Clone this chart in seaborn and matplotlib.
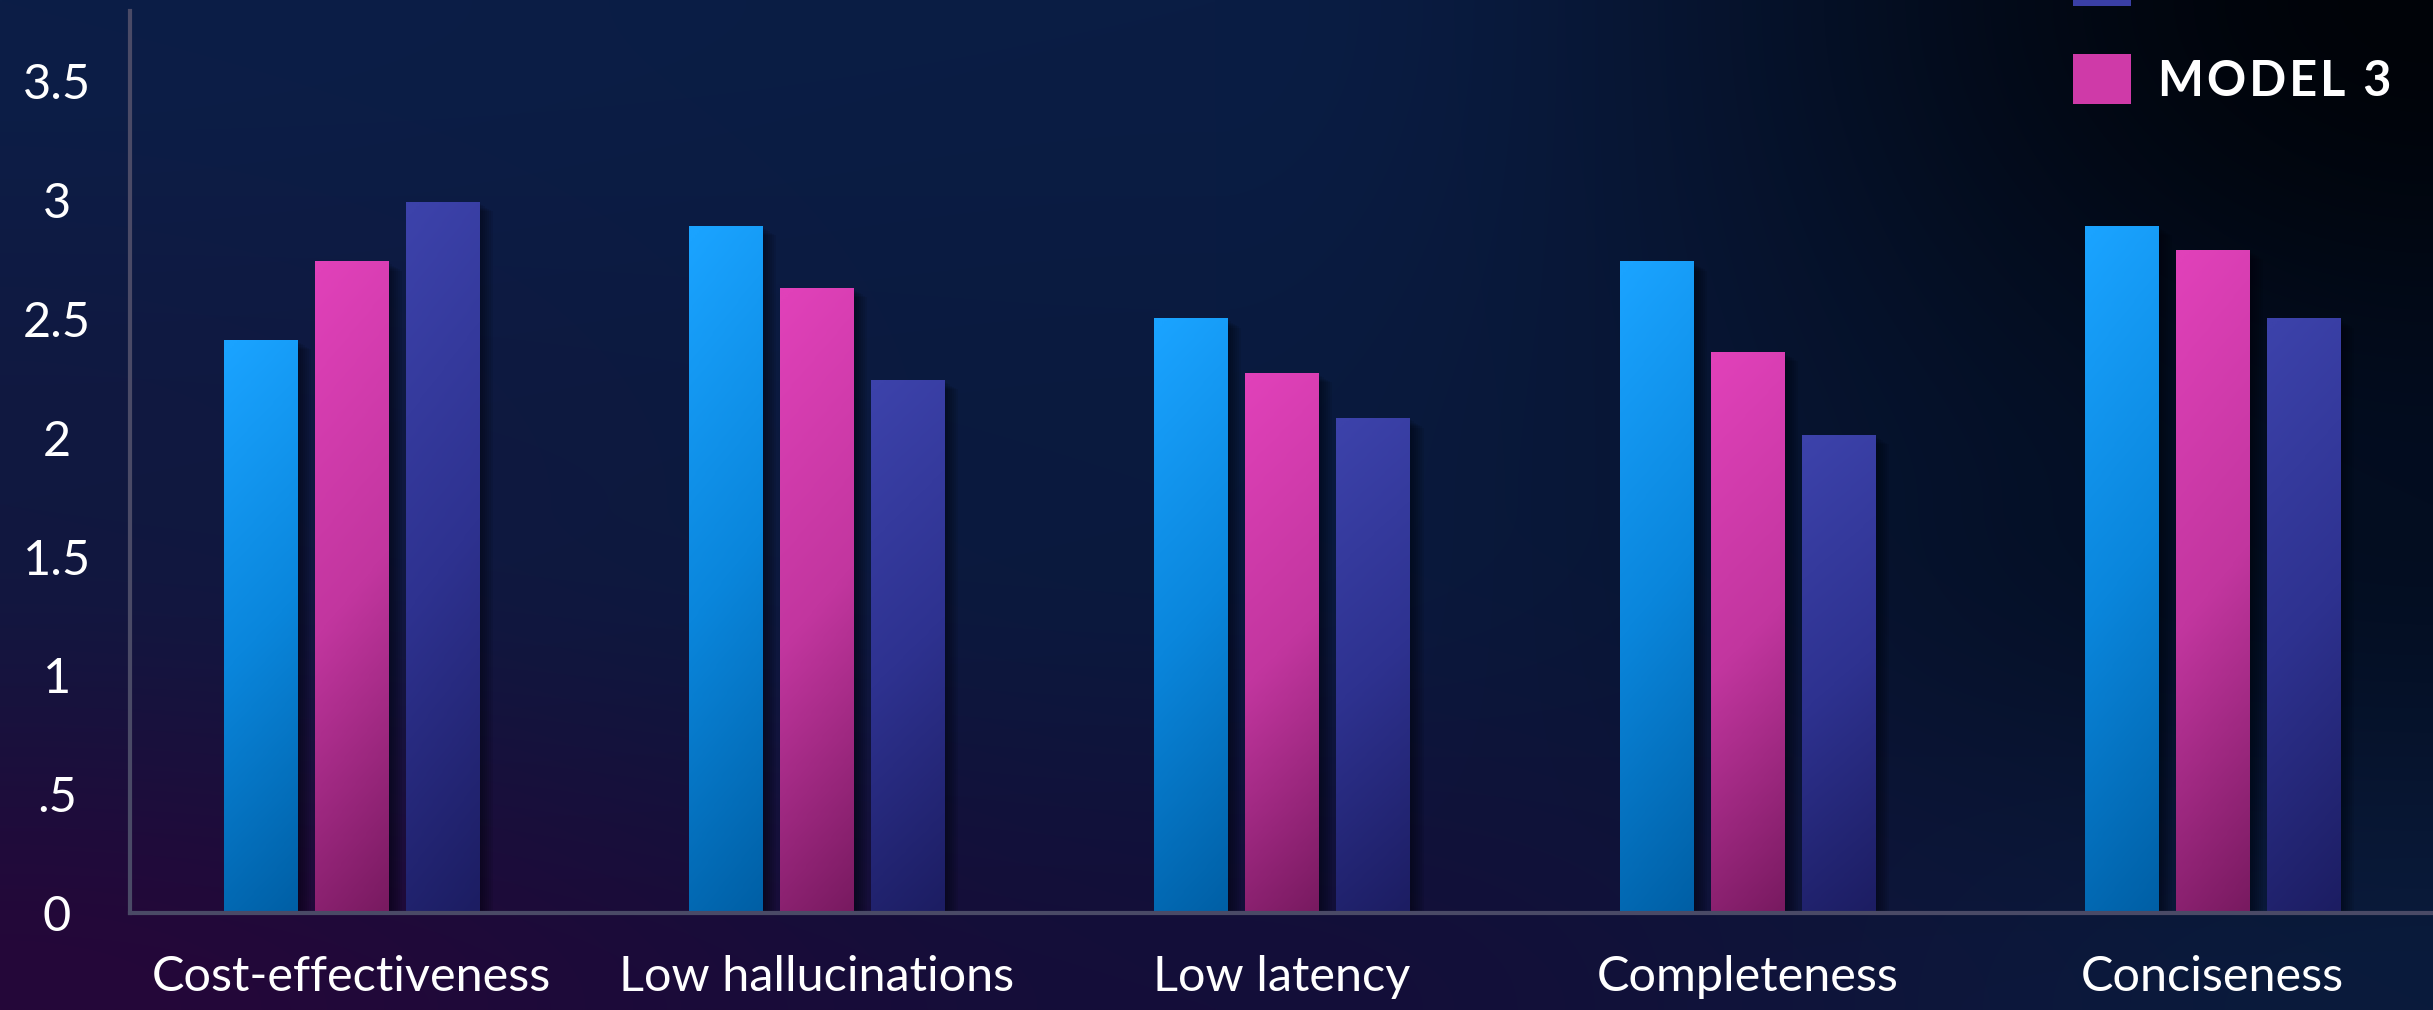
import numpy as np
import pandas as pd
import matplotlib
matplotlib.use("Agg")
import matplotlib.pyplot as plt
import matplotlib.patheffects as pe
from matplotlib.colors import LinearSegmentedColormap, to_rgb
from matplotlib.patches import Patch
from matplotlib.font_manager import FontProperties
import seaborn as sns

# ---- data -------------------------------------------------------------
categories = ["Cost-effectiveness", "Low hallucinations", "Low latency",
              "Completeness", "Conciseness"]
model_1 = [2.41, 2.89, 2.50, 2.74, 2.89]
model_3 = [2.74, 2.63, 2.27, 2.36, 2.79]
model_2 = [2.99, 2.24, 2.08, 2.01, 2.50]

series_names = ["MODEL 1", "MODEL 3", "MODEL 2"]          # drawing order in each group
legend_names = ["MODEL 1", "MODEL 2", "MODEL 3"]          # legend order
y_ticks = [0, 0.5, 1, 1.5, 2, 2.5, 3, 3.5]
y_tick_labels = ["0", ".5", "1", "1.5", "2", "2.5", "3", "3.5"]

df = pd.DataFrame({
    "category": categories * 3,
    "score": model_1 + model_3 + model_2,
    "model": [series_names[0]] * 5 + [series_names[1]] * 5 + [series_names[2]] * 5,
})

# gradient stops (top, middle, bottom) for each series
gradients = {
    "MODEL 1": ["#1aa3ff", "#0a86dc", "#005fa5"],
    "MODEL 3": ["#e041b9", "#c2369f", "#781a60"],
    "MODEL 2": ["#3c42aa", "#2e3290", "#1c1d62"],
}
swatch_colors = {"MODEL 1": "#1497f0", "MODEL 2": "#3a3fa6", "MODEL 3": "#cf3aa8"}

# ---- style ------------------------------------------------------------
sns.set_theme(style="dark")
plt.rcParams["font.family"] = ["Lato", "DejaVu Sans"]
plt.rcParams["axes.facecolor"] = "none"

W, H = 2433, 1010
fig = plt.figure(figsize=(W / 100, H / 100), dpi=100)

# ---- background gradient ------------------------------------------------
grid = np.array([
    [to_rgb("#0c1e47"), to_rgb("#0a1d44"), to_rgb("#000308")],
    [to_rgb("#111840"), to_rgb("#0a1a3e"), to_rgb("#030d20")],
    [to_rgb("#250739"), to_rgb("#140e39"), to_rgb("#0a1b3c")],
])
gh, gw = 300, 700
yy = np.linspace(0, 2, gh)[:, None]
xx = np.linspace(0, 2, gw)[None, :]
iy = np.clip(np.floor(yy).astype(int), 0, 1)
ix = np.clip(np.floor(xx).astype(int), 0, 1)
fy = (yy - iy)[..., None]
fx = (xx - ix)[..., None]
fy = fy * fy * (3 - 2 * fy)
fx = fx * fx * (3 - 2 * fx)
iy = np.broadcast_to(iy, (gh, gw))
ix = np.broadcast_to(ix, (gh, gw))
c00 = grid[iy, ix]
c01 = grid[iy, ix + 1]
c10 = grid[iy + 1, ix]
c11 = grid[iy + 1, ix + 1]
bg = (c00 * (1 - fx) * (1 - fy) + c01 * fx * (1 - fy)
      + c10 * (1 - fx) * fy + c11 * fx * fy)
bg_ax = fig.add_axes([0, 0, 1, 1], zorder=-10)
bg_ax.imshow(bg, aspect="auto", extent=(0, 1, 0, 1), interpolation="bilinear")
bg_ax.set_axis_off()

# ---- main axes ----------------------------------------------------------
left_px, base_px, top_px = 130, 913, 11
ax = fig.add_axes([left_px / W, (H - base_px) / H, (W - left_px) / W,
                   (base_px - top_px) / H])
ax.patch.set_alpha(0)

palette = {k: v[0] for k, v in gradients.items()}
sns.barplot(data=df, x="category", y="score", hue="model",
            hue_order=series_names, palette=palette, saturation=1,
            width=0.587, gap=0.198, legend=False, ax=ax, zorder=2,
            linewidth=0, edgecolor="none")

# soft shadow to the right of each bar
shadow = [pe.SimplePatchShadow(offset=(d * 0.72, -d * 0.45),
                               shadow_rgbFace="#01030a", alpha=0.085)
          for d in (2, 4, 6, 8, 10, 12, 14)] + [pe.Normal()]

# gradient fill for every bar
uu = np.linspace(0, 1, 256)[:, None]
vv = np.linspace(0, 1, 32)[None, :]
shade = np.clip(0.9 * uu + 0.12 * vv - 0.02, 0, 1)
for container, name in zip(ax.containers, series_names):
    cmap = LinearSegmentedColormap.from_list(name, gradients[name])
    rgba = cmap(shade)
    for bar in container:
        bar.set_path_effects(shadow)
        x0, w, h = bar.get_x(), bar.get_width(), bar.get_height()
        ax.imshow(rgba, extent=(x0, x0 + w, 0, h), aspect="auto",
                  origin="upper", zorder=3, interpolation="bilinear")

ax.set_aspect("auto")
ax.set_xlim(-0.476, 4.474)
ax.set_ylim(0, 3.796)
ax.set_xlabel("")
ax.set_ylabel("")
ax.grid(False)

for side in ("top", "right"):
    ax.spines[side].set_visible(False)
for side in ("left", "bottom"):
    ax.spines[side].set_visible(True)
    ax.spines[side].set_color("#4a4a66")
    ax.spines[side].set_linewidth(3.0)
    ax.spines[side].set_zorder(4)

ax.set_yticks(y_ticks)
ax.set_yticklabels(y_tick_labels)
ax.tick_params(axis="y", length=0, colors="white", labelsize=35, pad=52.6)
ax.tick_params(axis="x", length=0, colors="white", labelsize=35, pad=30)
for lbl in ax.get_yticklabels():
    lbl.set_horizontalalignment("center")

# ---- legend (runs off the top edge; only the last entry is fully visible) --
handles = [Patch(facecolor=swatch_colors[n], edgecolor="none") for n in legend_names]
spaced = ["\u200a".join(n) for n in legend_names]
leg = ax.legend(handles, spaced, loc="lower left",
                bbox_to_anchor=(2073 / W, (H - 104) / H),
                bbox_transform=fig.transFigure, frameon=False,
                borderpad=0, borderaxespad=0, handlelength=1.19,
                handleheight=1.19, handletextpad=0.55, labelspacing=1.0,
                prop=FontProperties(family=["Lato", "DejaVu Sans"],
                                    weight="bold", size=35))
for t in leg.get_texts():
    t.set_color("white")

fig.savefig("out.png", dpi=100)
